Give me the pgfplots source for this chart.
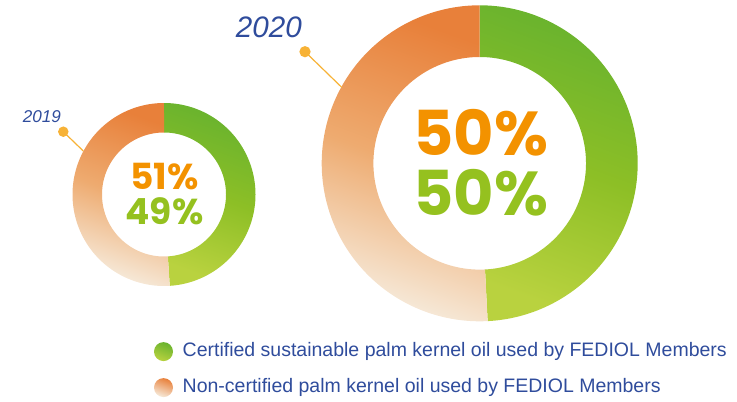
\documentclass[border=0pt]{standalone}
\usepackage{fontspec}
\setmainfont{Liberation Sans}
\newfontfamily\pctfont{Poppins}
\usepackage{pgfplots}
\pgfplotsset{compat=1.18}
\definecolor{gTop}{HTML}{69B32E}
\definecolor{gMid}{HTML}{8DBF26}
\definecolor{gBot}{HTML}{B9D23F}
\definecolor{oTop}{HTML}{E8803A}
\definecolor{oMid}{HTML}{EEAB70}
\definecolor{oBot}{HTML}{F6EADA}
\definecolor{textBlue}{HTML}{2F4C9C}
\definecolor{pctOrange}{HTML}{F39200}
\definecolor{pctGreen}{HTML}{95C11F}
\definecolor{leader}{HTML}{F7B236}
% annular sector: cx, cy, R, r, start value (%), end value (%), style
\newcommand{\donutsector}[7]{%
  \addplot[draw=none, forget plot, domain=0:2, samples=361, #7]
  ({#1+(#4+(#3-#4)*(x<1.001))*sin(3.6*(#5+(#6-#5)*((x<1.001)*x+(1-(x<1.001))*(2-x)*180/179)))},
   {#2-(#4+(#3-#4)*(x<1.001))*cos(3.6*(#5+(#6-#5)*((x<1.001)*x+(1-(x<1.001))*(2-x)*180/179)))});
}
\tikzset{
  greenfill/.style={top color=gTop, bottom color=gBot, middle color=gMid, shading angle=-20},
  orangefill/.style={top color=oTop, bottom color=oBot, middle color=oMid, shading angle=-20},
}
\begin{document}
\begin{tikzpicture}
\begin{axis}[
  scale only axis, width=368.5pt, height=200pt,
  xmin=0, xmax=737, ymin=0, ymax=400, y dir=reverse,
  hide axis, clip=false,
  legend cell align=left,
  legend style={at={(axis cs:154,329)}, anchor=north west, draw=none, fill=none,
    inner sep=0pt, outer sep=0pt, row sep=0pt, column sep=0pt,
    nodes={inner sep=0pt, text=textBlue},
    cells={anchor=base west},
    font=\fontsize{9.75}{11}\selectfont},
]
\path (axis cs:0,0) rectangle (axis cs:737,400);
% 2019: certified 49 %, non-certified 51 %
\donutsector{164}{194.5}{91.5}{62}{0}{49}{greenfill}
\donutsector{164}{194.5}{91.5}{62}{49}{100}{orangefill}
% 2020: certified 49.2 %, non-certified 50.8 % (labelled 50 % / 50 %)
\donutsector{479.7}{163.3}{158}{106.3}{0}{49.2}{greenfill}
\donutsector{479.7}{163.3}{158}{106.3}{49.2}{100}{orangefill}
% leader lines
\addplot[leader, line width=0.6pt, mark=*, mark size=2.3pt, mark indices={1}, forget plot]
  coordinates {(63.3,131.7) (83.3,151)};
\addplot[leader, line width=0.6pt, mark=*, mark size=2.5pt, mark indices={1}, forget plot]
  coordinates {(305,51.7) (341.7,87.3)};
% year labels
\node[anchor=base west, text=textBlue, font=\itshape\fontsize{8.55}{10}\selectfont, inner sep=0pt] at (axis cs:22.5,122.7) {2019};
\node[anchor=base west, text=textBlue, font=\itshape\fontsize{14.8}{17}\selectfont, inner sep=0pt] at (axis cs:235.5,37.7) {2020};
% centre percentages
\node[anchor=base, text=pctOrange, font=\pctfont\bfseries\fontsize{18}{18}\selectfont, inner sep=0pt] at (axis cs:164.5,189) {51\%};
\node[anchor=base, text=pctGreen, font=\pctfont\bfseries\fontsize{18}{18}\selectfont, inner sep=0pt] at (axis cs:164.5,224) {49\%};
\node[anchor=base, text=pctOrange, font=\pctfont\bfseries\fontsize{31}{31}\selectfont, inner sep=0pt] at (axis cs:481,155) {50\%};
\node[anchor=base, text=pctGreen, font=\pctfont\bfseries\fontsize{31}{31}\selectfont, inner sep=0pt] at (axis cs:481,215) {50\%};
% legend
\addlegendimage{legend image code/.code={\shade[draw=none, top color=gTop, bottom color=gBot, shading angle=-20] (4.75pt,2.2pt) circle (4.75pt); \path[draw=none, fill=none] (0pt,-4.5pt) rectangle (14.35pt,13.5pt);}}
\addlegendentry{Certified sustainable palm kernel oil used by FEDIOL Members}
\addlegendimage{legend image code/.code={\shade[draw=none, top color=oTop, bottom color=oBot, shading angle=-20] (4.75pt,2.2pt) circle (4.75pt); \path[draw=none, fill=none] (0pt,-4.5pt) rectangle (14.35pt,13.5pt);}}
\addlegendentry{Non-certified palm kernel oil used by FEDIOL Members}
\end{axis}
\end{tikzpicture}
\end{document}
